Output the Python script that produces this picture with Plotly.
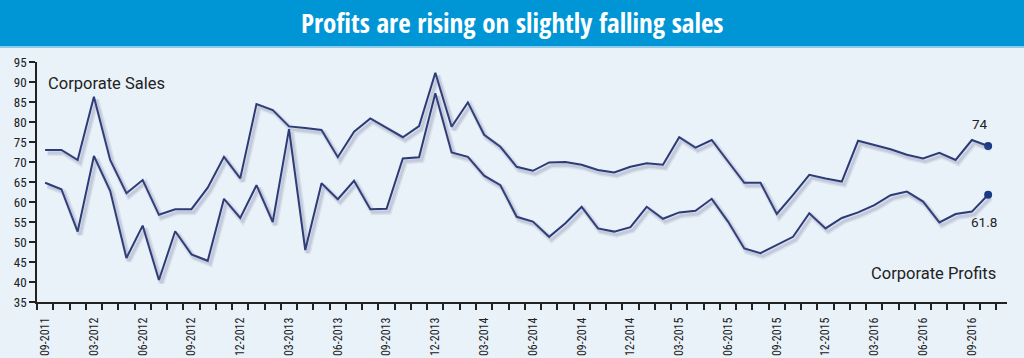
import plotly.graph_objects as go

# ---------------- data ----------------
tick_labels = ["09-2011", "03-2012", "06-2012", "09-2012", "12-2012", "03-2013",
               "06-2013", "09-2013", "12-2013", "03-2014", "06-2014", "09-2014",
               "12-2014", "03-2015", "06-2015", "09-2015", "12-2015", "03-2016",
               "06-2016", "09-2016"]

sales = [73.0, 73.0, 70.5, 86.3, 70.5, 62.2, 65.5, 56.8, 58.2, 58.2,
         63.6, 71.3, 65.9, 84.5, 83.0, 78.9, 78.5, 78.0, 71.2, 77.6,
         80.9, 78.6, 76.2, 79.0, 92.3, 78.8, 84.9, 76.8, 73.8, 68.8,
         67.8, 69.9, 70.0, 69.3, 68.0, 67.4, 68.8, 69.7, 69.3, 76.2,
         73.6, 75.5, 70.1, 64.8, 64.8, 57.0, 61.8, 66.8, 65.9, 65.1,
         75.3, 74.3, 73.2, 71.8, 70.9, 72.3, 70.5, 75.5, 74.0]

profits = [64.8, 63.2, 52.6, 71.5, 62.8, 46.0, 54.1, 40.5, 52.7, 46.9,
           45.3, 60.8, 56.0, 64.2, 55.0, 78.2, 48.0, 64.7, 60.7, 65.3,
           58.2, 58.3, 70.9, 71.2, 87.2, 72.4, 71.3, 66.6, 64.2, 56.3,
           55.1, 51.3, 54.7, 58.8, 53.4, 52.6, 53.7, 58.8, 55.8, 57.4,
           57.8, 60.8, 55.1, 48.4, 47.2, 49.3, 51.3, 57.2, 53.4, 56.0,
           57.4, 59.2, 61.7, 62.6, 60.1, 54.9, 57.0, 57.6, 61.8]

title_text = "Profits are rising on slightly falling sales"
sales_label = "Corporate Sales"
profits_label = "Corporate Profits"

# ---------------- styling ----------------
W, H = 1024, 358
ML, MR, MT, MB = 37, 17, 62, 56
PW, PH = W - ML - MR, H - MT - MB
LINE = "#2c3a78"
AXIS = "#222222"
BG = "#e9f1f9"
BAR = "#0096d6"
TITLEF = "Open Sans Condensed, Roboto Condensed, sans-serif"
NARROW = "Roboto Condensed, sans-serif"
TEXTF = "Roboto, DejaVu Sans, sans-serif"

n = len(sales)
xs = list(range(n))
label_pos = [0] + list(range(3, n, 3))[:len(tick_labels) - 1]

x_range = [-0.5, 59.16]
y_range = [35, 95]
px_per_x = PW / (x_range[1] - x_range[0])
px_per_y = PH / (y_range[1] - y_range[0])
sdx, sdy = 2.5, 3  # shadow offset in pixels

fig = go.Figure()

# soft shadows (same data drawn on offset overlay axes)
for ser in (sales, profits):
    fig.add_trace(go.Scatter(x=xs, y=ser, mode="lines", xaxis="x2", yaxis="y2",
                             line=dict(color="rgba(80,90,130,0.10)", width=6),
                             hoverinfo="skip", showlegend=False))
    fig.add_trace(go.Scatter(x=xs, y=ser, mode="lines", xaxis="x2", yaxis="y2",
                             line=dict(color="rgba(80,90,130,0.16)", width=3),
                             hoverinfo="skip", showlegend=False))

for ser, name in ((sales, sales_label), (profits, profits_label)):
    fig.add_trace(go.Scatter(x=xs, y=ser, mode="lines", name=name,
                             line=dict(color=LINE, width=2), showlegend=False))

fig.add_trace(go.Scatter(x=[xs[-1], xs[-1]], y=[sales[-1], profits[-1]], mode="markers",
                         marker=dict(color="#1a3a86", size=8), showlegend=False,
                         hoverinfo="skip"))

fig.update_layout(
    template="none",
    width=W, height=H,
    margin=dict(l=ML, r=MR, t=MT, b=MB, pad=0, autoexpand=False),
    paper_bgcolor=BG, plot_bgcolor=BG,
    showlegend=False,
    xaxis=dict(range=x_range, showgrid=False, zeroline=False, automargin=False,
               showline=True, linecolor=AXIS, linewidth=1.5,
               tickmode="array", tickvals=label_pos, ticktext=tick_labels,
               ticks="", tickangle=-90, ticklabelstandoff=9,
               tickfont=dict(family=NARROW, size=12, color=AXIS),
               minor=dict(ticks="outside", ticklen=6, tickwidth=1.5, tickcolor=AXIS,
                          tick0=-0.5, dtick=1, showgrid=False)),
    yaxis=dict(range=y_range, showgrid=False, zeroline=False, automargin=False,
               showline=True, linecolor=AXIS, linewidth=1.5,
               tick0=35, dtick=5, ticks="outside", ticklen=6, tickwidth=1.5,
               tickcolor=AXIS, tickfont=dict(family=NARROW, size=13, color=AXIS)),
    xaxis2=dict(overlaying="x", range=[x_range[0] - sdx / px_per_x, x_range[1] - sdx / px_per_x],
                visible=False, automargin=False),
    yaxis2=dict(overlaying="y", range=[y_range[0] + sdy / px_per_y, y_range[1] + sdy / px_per_y],
                visible=False, automargin=False),
)

# title bar
fig.add_shape(type="rect", xref="paper", yref="paper", layer="below",
              x0=-0.1, x1=1.1, y0=1 + (MT - 48) / PH, y1=1 + MT / PH + 0.05,
              fillcolor="#8fcbea", line=dict(width=0))
fig.add_shape(type="rect", xref="paper", yref="paper", layer="below",
              x0=-0.1, x1=1.1, y0=1 + (MT - 46) / PH, y1=1 + MT / PH + 0.05,
              fillcolor=BAR, line=dict(width=0))
fig.add_annotation(text="<b>" + title_text + "</b>", xref="paper", yref="paper",
                   x=(W / 2 - ML) / PW, y=1 + (MT - 23) / PH, showarrow=False,
                   xanchor="center", yanchor="middle",
                   font=dict(family=TITLEF, size=27, color="white"))

fig.add_annotation(text=sales_label, xref="paper", yref="paper",
                   x=(46 - ML) / PW, y=(H - MB - 83) / PH, showarrow=False,
                   xanchor="left", yanchor="middle",
                   font=dict(family=TEXTF, size=16.5, color="#222222"))
fig.add_annotation(text=profits_label, xref="paper", yref="paper",
                   x=(998 - ML) / PW, y=(H - MB - 273) / PH, showarrow=False,
                   xanchor="right", yanchor="middle",
                   font=dict(family=TEXTF, size=16.5, color="#222222"))

fig.add_annotation(text=f"{sales[-1]:g}", x=xs[-1], y=sales[-1], showarrow=False,
                   xshift=-8, yshift=22, font=dict(family=TEXTF, size=13.5, color="#222222"))
fig.add_annotation(text=f"{profits[-1]:g}", x=xs[-1], y=profits[-1], showarrow=False,
                   xshift=-4, yshift=-27, font=dict(family=TEXTF, size=13.5, color="#222222"))

fig.write_html("out.html", config={"displayModeBar": False},
               post_script="document.body.style.margin='0';document.body.style.overflow='hidden';")
